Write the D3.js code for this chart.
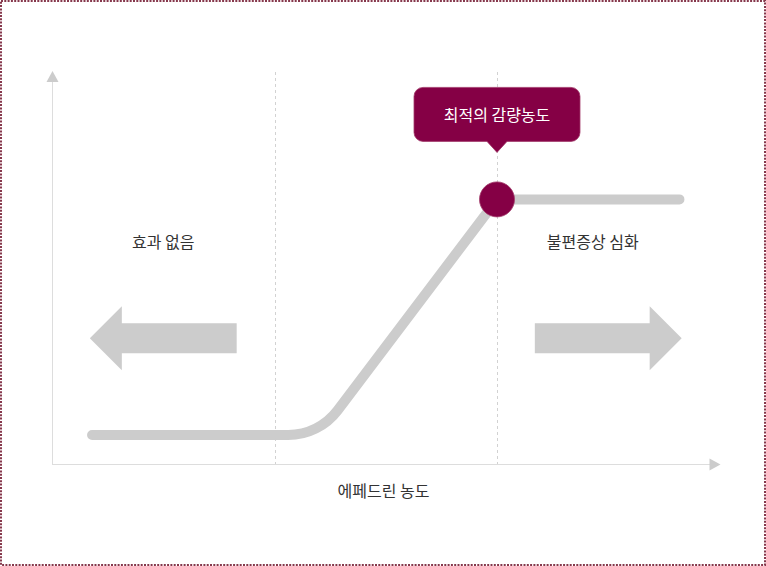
<!DOCTYPE html>
<html>
<head>
<meta charset="utf-8">
<script src="https://cdn.jsdelivr.net/npm/d3@7"></script>
<style>
  html, body { margin: 0; padding: 0; background: #fff; }
  svg { display: block; font-family: "Noto Sans CJK KR", "Noto Sans", sans-serif; }
</style>
</head>
<body>
<svg class="dose-chart"></svg>
<script>
// curve of effect vs. ephedrine concentration (x in dose units, y in effect units)
const doseX = [0.18, 1.2, 2, 2.82];
const effectY = [0.74, 0.74, 6.75, 6.75];
const zoneLines = [1, 2];
const zoneLabels = ['효과 없음', '불편증상 심화'];
const zoneLabelX = [0.5, 2.43];
const optimumLabel = '최적의 감량농도';
const axisTitle = '에페드린 농도';

const width = 766, height = 566;
const maroon = '#850045';

const svg = d3.select('svg.dose-chart')
  .attr('width', width)
  .attr('height', height);

// frame
svg.append('rect')
  .attr('x', 1).attr('y', 1)
  .attr('width', width - 2).attr('height', height - 2)
  .attr('fill', 'none')
  .attr('stroke', '#86384c')
  .attr('stroke-width', 2)
  .attr('stroke-dasharray', '2,1.3');

const x = d3.scaleLinear().domain([0, 3]).range([52, 719.5]);
const y = d3.scaleLinear().domain([0, 10]).range([464, 72]);

// dashed zone borders
svg.selectAll('line.zone')
  .data(zoneLines)
  .enter().append('line')
  .attr('class', 'zone')
  .attr('x1', d => Math.round(x(d)) + 0.5).attr('x2', d => Math.round(x(d)) + 0.5)
  .attr('y1', y(10)).attr('y2', y(0))
  .attr('stroke', '#d2d2d2')
  .attr('stroke-dasharray', '3,3');

// axes
svg.append('line')
  .attr('x1', x(0) + 0.5).attr('x2', x(0) + 0.5)
  .attr('y1', y(0)).attr('y2', y(10) + 8)
  .attr('stroke', '#dddddd');
svg.append('line')
  .attr('x1', x(0)).attr('x2', x(3) - 8)
  .attr('y1', y(0) + 0.5).attr('y2', y(0) + 0.5)
  .attr('stroke', '#dddddd');

svg.append('path')
  .attr('d', `M${x(0) + 0.5},${y(10) - 1} l6,11 h-12 Z`)
  .attr('fill', '#cccccc');
svg.append('path')
  .attr('d', `M${x(3) + 1},${y(0) + 0.5} l-11,-6 v12 Z`)
  .attr('fill', '#cccccc');

// main curve: flat, rounded knee, straight rise, flat
const pts = doseX.map((d, i) => [x(d), y(effectY[i])]);
const p = d3.path();
p.moveTo(pts[0][0], pts[0][1]);
p.arcTo(pts[1][0], pts[1][1], pts[2][0], pts[2][1], 62);
p.lineTo(pts[2][0], pts[2][1]);
p.lineTo(pts[3][0], pts[3][1]);

svg.append('path')
  .attr('d', p.toString())
  .attr('fill', 'none')
  .attr('stroke', '#cccccc')
  .attr('stroke-width', 10)
  .attr('stroke-linecap', 'round')
  .attr('stroke-linejoin', 'miter');

// zone labels
svg.selectAll('text.zone-label')
  .data(zoneLabels)
  .enter().append('text')
  .attr('class', 'zone-label')
  .attr('x', (d, i) => x(zoneLabelX[i]))
  .attr('y', y(5.69))
  .attr('text-anchor', 'middle')
  .attr('dominant-baseline', 'central')
  .attr('font-size', 16)
  .attr('fill', '#333')
  .text(d => d);

// big direction arrows
function blockArrow(x0, x1, cy, dir) {
  const head = 32, bodyH = 15, headH = 32;
  const tip = dir < 0 ? x0 : x1;
  const tail = dir < 0 ? x1 : x0;
  const neck = tip - dir * head;
  return `M${tip},${cy} L${neck},${cy - headH} L${neck},${cy - bodyH} L${tail},${cy - bodyH} ` +
    `L${tail},${cy + bodyH} L${neck},${cy + bodyH} L${neck},${cy + headH} Z`;
}
const arrowY = y(3.21);
svg.append('path')
  .attr('d', blockArrow(x(0.17), x(0.83), arrowY, -1))
  .attr('fill', '#cccccc');
svg.append('path')
  .attr('d', blockArrow(x(2.17), x(2.83), arrowY, 1))
  .attr('fill', '#cccccc');

// optimum point
const peak = pts[2];
svg.append('circle')
  .attr('cx', peak[0]).attr('cy', peak[1])
  .attr('r', 17.5)
  .attr('fill', maroon)
  .attr('stroke', '#a23a6a')
  .attr('stroke-width', 0.8);

// callout
const bw = 166, bh = 54, r = 9;
const bx = peak[0] - 83, by = peak[1] - 112;
const tipY = peak[1] - 47;
const callout = d3.path();
callout.moveTo(bx + r, by);
callout.lineTo(bx + bw - r, by);
callout.arcTo(bx + bw, by, bx + bw, by + r, r);
callout.lineTo(bx + bw, by + bh - r);
callout.arcTo(bx + bw, by + bh, bx + bw - r, by + bh, r);
callout.lineTo(peak[0] + 10, by + bh);
callout.lineTo(peak[0], tipY);
callout.lineTo(peak[0] - 10, by + bh);
callout.lineTo(bx + r, by + bh);
callout.arcTo(bx, by + bh, bx, by + bh - r, r);
callout.lineTo(bx, by + r);
callout.arcTo(bx, by, bx + r, by, r);
callout.closePath();

svg.append('path')
  .attr('d', callout.toString())
  .attr('fill', maroon)
  .attr('stroke', '#a23a6a')
  .attr('stroke-width', 0.8);

svg.append('text')
  .attr('x', peak[0])
  .attr('y', by + bh / 2)
  .attr('text-anchor', 'middle')
  .attr('dominant-baseline', 'central')
  .attr('font-size', 16)
  .attr('fill', '#fff')
  .text(optimumLabel);

// axis title
svg.append('text')
  .attr('x', x(1.49))
  .attr('y', y(0) + 26)
  .attr('text-anchor', 'middle')
  .attr('dominant-baseline', 'central')
  .attr('font-size', 16)
  .attr('fill', '#333')
  .text(axisTitle);
</script>
</body>
</html>
